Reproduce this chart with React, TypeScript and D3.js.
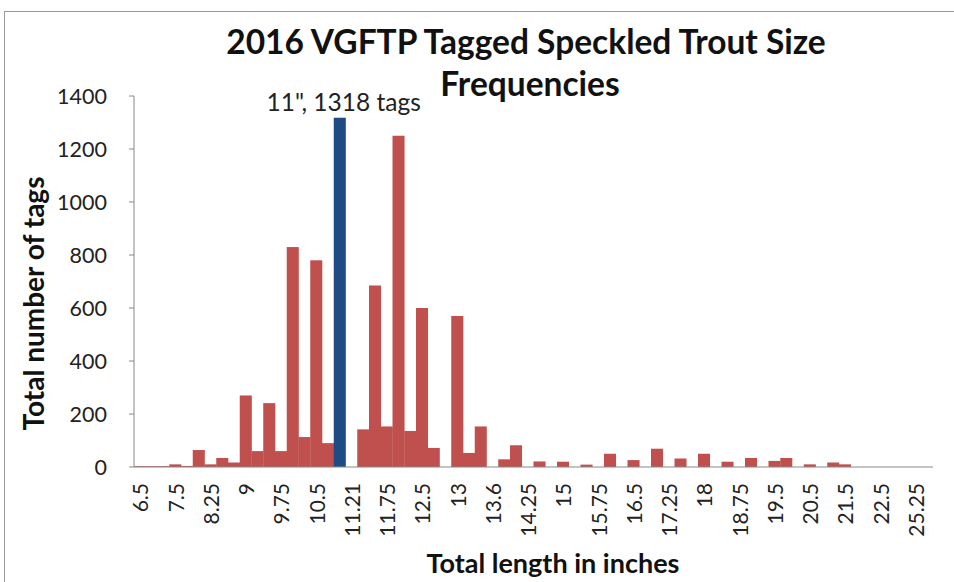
import React from "react";
import * as d3 from "d3";

// length classes (inches); every third one is labelled on the axis
const lengths = [
  "6.5", "7", "7.25", "7.5", "7.75", "8", "8.25", "8.5", "8.75", "9",
  "9.25", "9.5", "9.75", "10", "10.25", "10.5", "10.75", "11", "11.21", "11.25",
  "11.5", "11.75", "12", "12.25", "12.5", "12.75", "12.9", "13", "13.25", "13.5",
  "13.6", "13.75", "14", "14.25", "14.5", "14.75", "15", "15.25", "15.5", "15.75",
  "16", "16.25", "16.5", "16.75", "17", "17.25", "17.5", "17.75", "18", "18.25",
  "18.5", "18.75", "19", "19.25", "19.5", "19.75", "20", "20.5", "20.75", "21",
  "21.5", "21.75", "22", "22.5", "23", "24", "25.25", "26",
];

const tags = [
  3, 3, 3, 10, 4, 64, 10, 34, 17, 270,
  60, 241, 60, 830, 113, 780, 90, 1318, 0, 142,
  685, 153, 1250, 136, 600, 72, 0, 570, 53, 153,
  0, 29, 82, 0, 21, 0, 20, 0, 9, 0,
  50, 0, 26, 0, 69, 0, 32, 0, 50, 0,
  20, 0, 34, 0, 23, 34, 0, 10, 0, 17,
  10, 0, 0, 0, 0, 0, 0, 0,
];

const yTicks = [0, 200, 400, 600, 800, 1000, 1200, 1400];
const highlight = "11";

const W = 954,
  H = 582;
const margin = { top: 96, right: 21, bottom: 115, left: 134 };

export default function App() {
  const x = d3
    .scaleBand()
    .domain(lengths)
    .range([margin.left, W - margin.right])
    .paddingInner(0)
    .paddingOuter(0);
  const y = d3
    .scaleLinear()
    .domain([0, 1400])
    .range([H - margin.bottom, margin.top]);

  const font = "Lato, 'Open Sans', sans-serif";
  const hi = tags[lengths.indexOf(highlight)];
  const hx = x(highlight)! + x.bandwidth() / 2;

  return (
    <svg
      width={W}
      height={H}
      style={{ position: "absolute", left: 0, top: 0, background: "#fff" }}
      fontFamily={font}
    >
      <rect x={4.5} y={11.5} width={1000} height={700} fill="none" stroke="#999" />

      {/* title */}
      <text x={526} y={54} textAnchor="middle" fontSize={33.5} fontWeight="bold" fill="#111">
        2016 VGFTP Tagged Speckled Trout Size
      </text>
      <text x={530} y={96} textAnchor="middle" fontSize={33.5} fontWeight="bold" fill="#111">
        Frequencies
      </text>

      {/* y axis */}
      <line x1={margin.left} x2={margin.left} y1={y(1400)} y2={y(0)} stroke="#888" />
      {yTicks.map((t) => (
        <g key={t}>
          <line x1={margin.left - 5} x2={margin.left} y1={y(t)} y2={y(t)} stroke="#888" />
          <text x={107} y={y(t)} dy="0.36em" textAnchor="end" fontSize={21.5} fill="#222">
            {t}
          </text>
        </g>
      ))}
      <text
        transform={`translate(44,${(y(0) + y(1400)) / 2 + 22}) rotate(-90)`}
        textAnchor="middle"
        fontSize={28}
        fontWeight="bold"
        fill="#111"
      >
        Total number of tags
      </text>

      {/* bars */}
      {lengths.map((l, i) => (
        <rect
          key={l}
          x={x(l)}
          y={y(tags[i])}
          width={x.bandwidth() + 0.3}
          height={y(0) - y(tags[i])}
          fill={l === highlight ? "#1f4b84" : "#c0504d"}
        />
      ))}
      <line x1={margin.left} x2={W - margin.right} y1={y(0)} y2={y(0)} stroke="#888" />

      <text x={hx + 4} y={111} textAnchor="middle" fontSize={24.5} fill="#222">
        {`${highlight}", ${hi} tags`}
      </text>

      {/* x axis labels */}
      {lengths.map((l, i) =>
        i % 3 === 0 ? (
          <text
            key={l}
            transform={`translate(${x(l)! + x.bandwidth() / 2 + 1},${y(0) + 16}) rotate(-90)`}
            textAnchor="end"
            dy="0.36em"
            fontSize={21}
            fill="#222"
          >
            {l}
          </text>
        ) : null
      )}
      <text x={553} y={573} textAnchor="middle" fontSize={27} fontWeight="bold" fill="#111">
        Total length in inches
      </text>
    </svg>
  );
}
